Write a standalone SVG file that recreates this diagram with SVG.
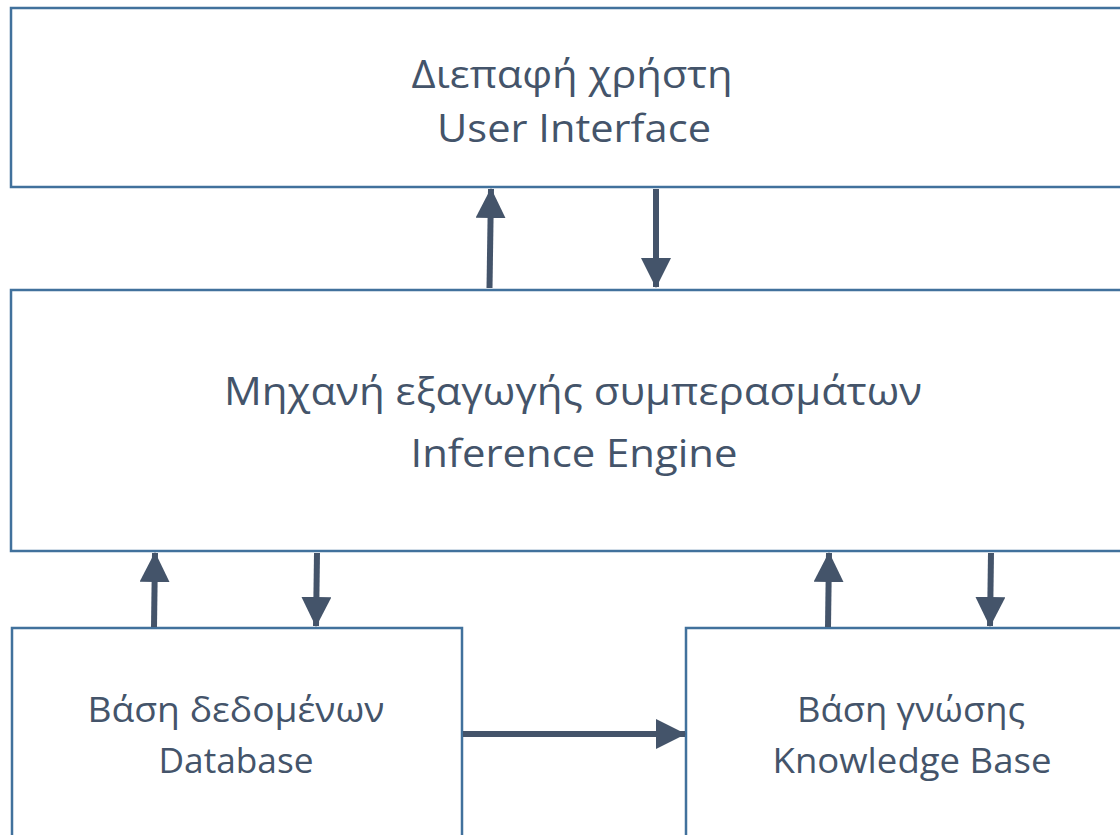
<svg xmlns="http://www.w3.org/2000/svg" width="1120" height="835" viewBox="0 0 1120 835">
<style>
.box{fill:#fff;stroke:#41719C;stroke-width:2.5}
.lbl{font-family:"Open Sans","Noto Sans","Liberation Sans",sans-serif;fill:#44546A;text-anchor:middle}
.big{font-size:39px}
.sm{font-size:35px}
.arr{stroke:#44546A;stroke-width:6;fill:none;marker-end:url(#ah)}
</style>
<defs>
<marker id="ah" markerUnits="userSpaceOnUse" markerWidth="30" markerHeight="30" refX="29" refY="15" orient="auto" viewBox="0 0 30 30">
<path d="M0,0 L30,15 L0,30 Z" fill="#44546A"/>
</marker>
</defs>
<g id="ui">
<rect class="box" x="11" y="8" width="1120" height="179"/>
<text class="lbl big" x="572" y="88" textLength="321" lengthAdjust="spacingAndGlyphs">Διεπαφή χρήστη</text>
<text class="lbl big" x="574" y="142" textLength="274" lengthAdjust="spacingAndGlyphs">User Interface</text>
</g>
<g id="engine">
<rect class="box" x="11" y="290" width="1120" height="261"/>
<text class="lbl big" x="573" y="405" textLength="698" lengthAdjust="spacingAndGlyphs">Μηχανή εξαγωγής συμπερασμάτων</text>
<text class="lbl big" x="574" y="467" textLength="327" lengthAdjust="spacingAndGlyphs">Inference Engine</text>
</g>
<g id="database">
<rect class="box" x="12" y="628" width="450" height="220"/>
<text class="lbl sm" x="236" y="722" textLength="297" lengthAdjust="spacingAndGlyphs">Βάση δεδομένων</text>
<text class="lbl sm" x="236" y="773" textLength="155" lengthAdjust="spacingAndGlyphs">Database</text>
</g>
<g id="kb">
<rect class="box" x="686" y="628" width="450" height="220"/>
<text class="lbl sm" x="911" y="722" textLength="228" lengthAdjust="spacingAndGlyphs">Βάση γνώσης</text>
<text class="lbl sm" x="912" y="773" textLength="279" lengthAdjust="spacingAndGlyphs">Knowledge Base</text>
</g>
<g id="connectors">
<line class="arr" x1="489.5" y1="288" x2="491" y2="189"/>
<line class="arr" x1="656" y1="189" x2="656" y2="287"/>
<line class="arr" x1="154" y1="627" x2="155" y2="553"/>
<line class="arr" x1="317" y1="553" x2="316" y2="626"/>
<line class="arr" x1="828" y1="627" x2="829" y2="553"/>
<line class="arr" x1="991" y1="553" x2="990" y2="626"/>
<line class="arr" x1="463" y1="734" x2="685" y2="734"/>
</g>
</svg>
